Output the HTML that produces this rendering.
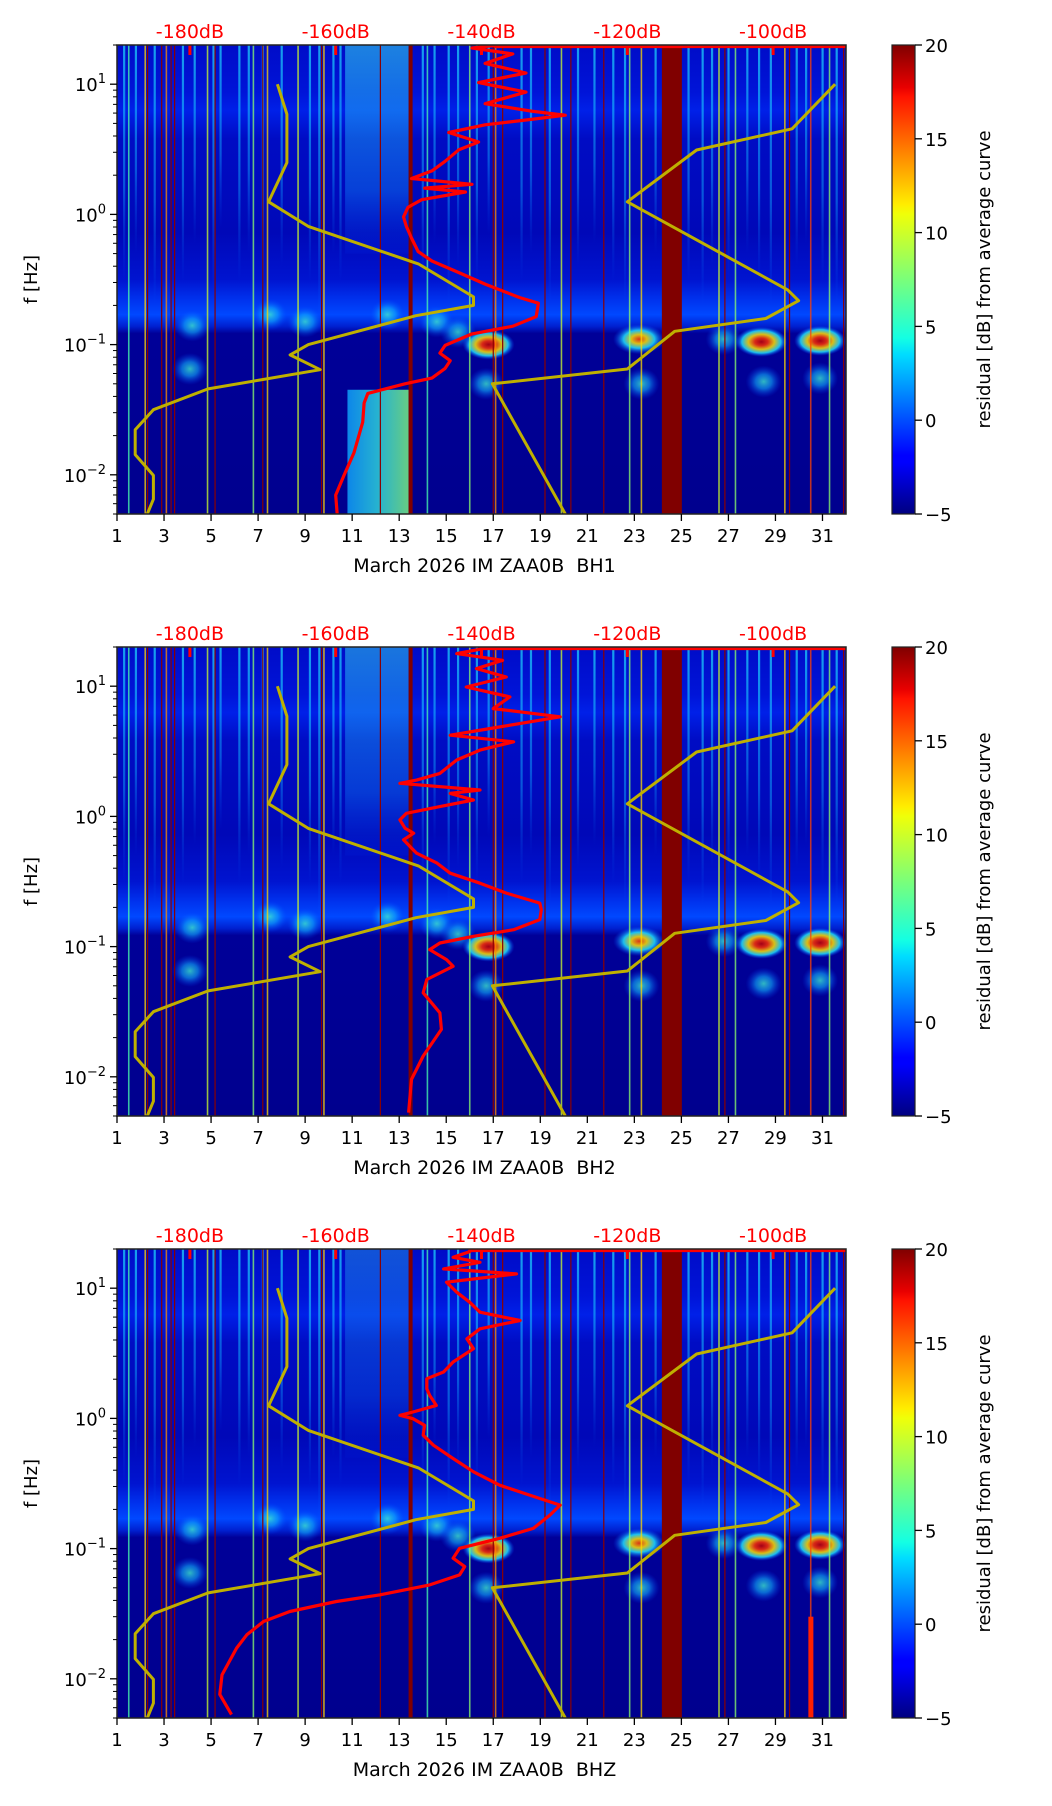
<!DOCTYPE html>
<html><head><meta charset="utf-8">
<style>
html,body{margin:0;padding:0;background:#fff;}
svg{display:block;font-family:"DejaVu Sans","Liberation Sans",sans-serif;}
</style></head>
<body>
<svg id="fig" width="1052" height="1806" viewBox="0 0 1052 1806" xmlns="http://www.w3.org/2000/svg">
<defs>
<linearGradient id="jetGrad" x1="0" y1="1" x2="0" y2="0">
<stop offset="0" stop-color="#000080"/><stop offset="0.11" stop-color="#0000ff"/><stop offset="0.125" stop-color="#0000ff"/>
<stop offset="0.34" stop-color="#00dcff"/><stop offset="0.375" stop-color="#14ffe3"/><stop offset="0.5" stop-color="#7aff7a"/>
<stop offset="0.64" stop-color="#f0ff08"/><stop offset="0.66" stop-color="#ffed00"/><stop offset="0.89" stop-color="#ff1200"/>
<stop offset="0.91" stop-color="#e80000"/><stop offset="1" stop-color="#800000"/>
</linearGradient>
<linearGradient id="bgGrad" x1="0" y1="0" x2="0" y2="1">
<stop offset="0" stop-color="#000cc8"/><stop offset="0.1" stop-color="#0014d8"/><stop offset="0.14" stop-color="#0020e8"/>
<stop offset="0.2" stop-color="#000cc4"/><stop offset="0.4" stop-color="#0008b8"/><stop offset="0.5" stop-color="#0014d0"/>
<stop offset="0.54" stop-color="#0030ec"/><stop offset="0.575" stop-color="#0048ff"/><stop offset="0.6" stop-color="#0020d0"/>
<stop offset="0.615" stop-color="#000098"/><stop offset="1" stop-color="#00008e"/>
</linearGradient>
<linearGradient id="streakGrad" x1="0" y1="0" x2="0" y2="1">
<stop offset="0" stop-color="#20e0ff" stop-opacity="0.7"/><stop offset="0.6" stop-color="#10b0ff" stop-opacity="0.45"/><stop offset="1" stop-color="#0060ff" stop-opacity="0"/>
</linearGradient>
<radialGradient id="blobRed"><stop offset="0" stop-color="#c00000"/><stop offset="0.25" stop-color="#ff3000"/><stop offset="0.5" stop-color="#ffe000"/><stop offset="0.75" stop-color="#20e0ff"/><stop offset="1" stop-color="#0040ff" stop-opacity="0"/></radialGradient>
<radialGradient id="blobYel"><stop offset="0" stop-color="#ff4000"/><stop offset="0.3" stop-color="#ffe000"/><stop offset="0.6" stop-color="#20e0ff"/><stop offset="1" stop-color="#0040ff" stop-opacity="0"/></radialGradient>
<radialGradient id="blobCyan"><stop offset="0" stop-color="#40f0d0" stop-opacity="0.9"/><stop offset="0.45" stop-color="#10b0ff" stop-opacity="0.7"/><stop offset="1" stop-color="#0040ff" stop-opacity="0"/></radialGradient>
<linearGradient id="colGrad" x1="0" y1="0" x2="1" y2="0"><stop offset="0" stop-color="#10a8ff"/><stop offset="0.5" stop-color="#30e0e0"/><stop offset="1" stop-color="#80ff80"/></linearGradient>
<linearGradient id="colTopGrad" x1="0" y1="0" x2="0" y2="1"><stop offset="0" stop-color="#30d0f0" stop-opacity="0.6"/><stop offset="0.7" stop-color="#1090ff" stop-opacity="0.4"/><stop offset="1" stop-color="#0040ff" stop-opacity="0.1"/></linearGradient>
</defs>
</svg>
<script>
// ---- data ----
const dayTicks = [1,3,5,7,9,11,13,15,17,19,21,23,25,27,29,31];
const dbTicks = [-180,-160,-140,-120,-100];
const cbTicks = [-5,0,5,10,15,20];
const channelNames = ["BH1","BH2","BHZ"];
// Peterson low / high noise models (period s, dB)
const nlnmPeriod = [0.1,0.17,0.4,0.8,1.24,2.4,4.3,5,6,10,12,15.6,21.9,31.6,45,70,101,154,200];
const nlnmDb = [-168,-166.7,-166.7,-169.2,-163.7,-148.65,-141.1,-141.1,-149,-163.75,-166.25,-162.13,-177.5,-185,-187.5,-187.5,-185,-185,-185.85];
const nhnmPeriod = [0.1,0.22,0.32,0.8,3.8,4.6,6.3,7.9,15.4,20,200];
const nhnmDb = [-91.5,-97.4,-110.5,-120.0,-98.0,-96.5,-101.0,-113.5,-120.0,-138.5,-128.5];
// mean PSD curves (log10 freq, dB)
const bh1LogF = [-2.303,-2.156,-2.009,-1.832,-1.596,-1.449,-1.375,-1.301,-1.257,-1.183,-1.124,-1.065,-1.006,-0.918,-0.859,-0.785,-0.682,-0.638,-0.535,-0.447,-0.358,-0.285,-0.181,-0.093,-0.019,0.054,0.113,0.172,0.202,0.231,0.276,0.334,0.408,0.497,0.556,0.629,0.688,0.732,0.762,0.791,0.850,0.939,1.012,1.086,1.160,1.233,1.278,1.298];
const bh1Db = [-159.8,-160.0,-158.9,-157.5,-156.3,-156.1,-155.6,-150.5,-146.8,-145.0,-144.3,-145.7,-145.0,-141.3,-135.7,-132.5,-132.2,-134.8,-139.5,-143.1,-146.8,-148.7,-149.6,-150.3,-150.7,-150.1,-148.2,-142.2,-147.8,-141.3,-149.6,-146.8,-145.0,-143.1,-140.4,-144.5,-139.5,-132.9,-128.5,-132.9,-139.5,-133.9,-140.4,-133.9,-139.5,-135.7,-141.3,-138.1];
const bh2LogF = [-2.275,-2.02,-1.84,-1.636,-1.509,-1.355,-1.253,-1.151,-1.100,-1.023,-0.972,-0.921,-0.87,-0.793,-0.717,-0.666,-0.589,-0.513,-0.436,-0.359,-0.283,-0.232,-0.18,-0.129,-0.091,-0.027,0.024,0.075,0.126,0.177,0.203,0.254,0.279,0.33,0.433,0.509,0.573,0.624,0.675,0.765,0.828,0.918,0.994,1.071,1.135,1.199,1.25,1.288];
const bh2Db = [-150.0,-149.6,-148.0,-145.5,-145.7,-148.0,-147.5,-143.9,-144.8,-147.1,-145.7,-141.1,-135.6,-132.0,-131.8,-132.0,-136.6,-140.2,-144.3,-146.1,-148.9,-149.8,-150.7,-149.3,-150.5,-151.2,-150.3,-145.7,-141.1,-144.3,-140.2,-151.2,-148.9,-145.7,-143.4,-140.2,-135.6,-144.3,-138.8,-129.2,-138.4,-136.1,-142.1,-136.6,-140.7,-137.1,-143.4,-139.8];
const bhzLogF = [-2.275,-2.12,-1.97,-1.764,-1.662,-1.56,-1.483,-1.406,-1.355,-1.279,-1.202,-1.138,-1.074,-0.998,-0.921,-0.845,-0.742,-0.666,-0.615,-0.513,-0.41,-0.308,-0.206,-0.129,-0.053,-0.002,0.024,0.049,0.1,0.177,0.228,0.305,0.356,0.433,0.535,0.611,0.688,0.752,0.816,0.892,0.969,1.046,1.11,1.148,1.199,1.237,1.281];
const bhzDb = [-174.3,-175.9,-175.6,-173.6,-172.2,-169.9,-166.3,-159.9,-153.9,-147.1,-143.0,-142.3,-143.9,-143.0,-137.5,-132.9,-130.6,-129.2,-132.0,-137.5,-141.1,-143.9,-146.6,-148.0,-147.8,-149.4,-151.2,-149.4,-146.2,-147.1,-147.5,-147.5,-145.2,-143.9,-141.1,-142.0,-140.2,-134.7,-140.2,-141.6,-143.4,-144.8,-135.2,-145.2,-140.2,-143.9,-141.6];
// spectrogram features
const gapDays = [2.3,2.9,3.3,3.45,5.17,7.2,9.7,12.2,17.0,17.4,19.2,20.3,21.7,26.85,29.6,31.9];
const fullLineDays = [1.5,2.2,3.1,4.85,6.8,7.4,8.7,9.8,14.2,16.0,17.1,19.9,22.8,23.3,26.6,27.3,29.4,30.5,31.3];
const fullLineVal = [6,12,14,10,8,12,10,12,6,8,14,10,8,12,10,8,12,16,8];
const streakDays = [1.3,1.8,2.6,3.8,4.3,5.1,5.4,6.2,6.6,7.2,8.0,9.2,9.6,10.2,10.5,14.0,14.5,15.1,15.5,16.3,16.8,18.2,18.6,19.4,20.6,21.3,22.1,22.6,23.9,25.3,25.9,26.3,27.0,27.8,28.3,28.8,29.9,30.3,31.0,31.6];
const streakLow = [0.3,0.5,0.2,0.3,0.6,0.25,0.8,0.3,0.5,0.2,0.4,0.3,0.15,0.5,0.3,0.3,0.6,0.2,0.4,0.3,0.7,0.3,0.5,0.2,0.4,0.6,0.3,0.2,0.5,0.3,0.2,0.4,0.3,0.5,0.3,0.2,0.4,0.6,0.3,0.2];
const blobDay = [4.2,4.1,7.5,9.0,14.6,16.8,16.7,23.2,23.3,28.4,28.5,30.9,30.9,26.8,15.5,12.5];
const blobFreq = [0.14,0.065,0.17,0.15,0.15,0.10,0.05,0.11,0.05,0.105,0.052,0.107,0.055,0.11,0.125,0.17];
const blobKind = ["c","c","c","c","c","r","c","y","c","r","c","r","c","c","c","c"];

// ---- geometry ----
const L=117, R=846, H=469, TOPS=[45,647,1249];
const F0=0.005, F1=20, D0=1, D1=32, DB0=-190, DB1=-90;
const svg=document.getElementById('fig');
const NS='http://www.w3.org/2000/svg';
function mk(tag, attrs, parent){const e=document.createElementNS(NS,tag);for(const k in attrs)e.setAttribute(k,attrs[k]);(parent||svg).appendChild(e);return e;}
function xDay(d){return L+(d-D0)/(D1-D0)*(R-L);}
function xDb(db){return L+(db-DB0)/(DB1-DB0)*(R-L);}
function yF(T,f){return T+(Math.log10(F1)-Math.log10(f))/(Math.log10(F1)-Math.log10(F0))*H;}
function jet(v){let t=(v+5)/25;t=Math.max(0,Math.min(1,t));
 const r=Math.max(0,Math.min(1,t<0.35?0:t<0.66?(t-0.35)/0.31:t<0.89?1:1-(t-0.89)/0.22));
 const g=Math.max(0,Math.min(1,t<0.125?0:t<0.375?(t-0.125)/0.25:t<0.64?1:1-(t-0.64)/0.27));
 const b=Math.max(0,Math.min(1,t<0.11?0.5+t/0.22:t<0.34?1:1-(t-0.34)/0.31));
 return `rgb(${Math.round(r*255)},${Math.round(g*255)},${Math.round(b*255)})`;}

const curves=[[bh1LogF,bh1Db],[bh2LogF,bh2Db],[bhzLogF,bhzDb]];

for(let p=0;p<3;p++){
 const T=TOPS[p], B=T+H;
 const g=mk('g',{});
 
 
 const clipId='clip'+p;
 const cp=mk('clipPath',{id:clipId},g); mk('rect',{x:L,y:T,width:R-L,height:H},cp);
 const sg=mk('g',{'clip-path':`url(#${clipId})`},g);
 
 
 mk('rect',{x:L,y:T,width:R-L,height:H,fill:'url(#bgGrad)'},sg);
 // bright column (days ~10.7-13.4)
 const cx0=xDay(10.7), cx1=xDay(13.4);
 mk('rect',{x:cx0,y:T,width:cx1-cx0,height:yF(T,0.5)-T,fill:'url(#colTopGrad)',opacity:p===0?1:(p===1?0.9:0.6)},sg);
 if(p===0){mk('rect',{x:xDay(10.8),y:yF(T,0.045),width:xDay(13.4)-xDay(10.8),height:B-yF(T,0.045),fill:'url(#colGrad)',opacity:0.8},sg);}
 // upper streaks
 for(let i=0;i<streakDays.length;i++){
  const y1=yF(T,streakLow[i]);
  const r=mk('rect',{x:xDay(streakDays[i])-1,y:T,width:2.2,height:y1-T,fill:'url(#streakGrad)'},sg);
  
  
 }
 // blobs
 for(let i=0;i<blobDay.length;i++){
  const k=blobKind[i];
  const e=mk('ellipse',{cx:xDay(blobDay[i]),cy:yF(T,blobFreq[i]),rx:k==='c'?18:26,ry:k==='c'?16:15,fill:k==='r'?'url(#blobRed)':k==='y'?'url(#blobYel)':'url(#blobCyan)',opacity:0.85},sg);
  
  
 }
 // full-height lines
 for(let i=0;i<fullLineDays.length;i++){
  const r=mk('rect',{x:xDay(fullLineDays[i])-0.8,y:T,width:1.6,height:H,fill:jet(fullLineVal[i]),opacity:0.75},sg);
  
  
 }
 if(p===2){mk('rect',{x:xDay(30.4),y:yF(T,0.03),width:5,height:B-yF(T,0.03),fill:'#ff2000'},sg);}
 // gap lines
 for(const d of gapDays){
  const l=mk('line',{x1:xDay(d),x2:xDay(d),y1:T,y2:B,stroke:'#8b0000','stroke-width':1.2},sg);
  
  
 }
 mk('rect',{x:xDay(13.4),y:T,width:4,height:H,fill:'#800000'},sg);
 const band=mk('rect',{x:xDay(24.17),y:T,width:xDay(25.02)-xDay(24.17),height:H,fill:'#800000'},sg);
 
 
 // noise models
 for(const [per,db,name] of [[nlnmPeriod,nlnmDb,'nlnm-curve'],[nhnmPeriod,nhnmDb,'nhnm-curve']]){
  const pts=per.map((t,i)=>xDb(db[i]).toFixed(1)+','+yF(T,1/t).toFixed(1)).join(' ');
  const pl=mk('polyline',{points:pts,fill:'none',stroke:'#bfb000','stroke-width':3,'stroke-linejoin':'round'},sg);
  
  
 }
 // mean curve
 const [lf,db]=curves[p];
 const pts=lf.map((v,i)=>xDb(db[i]).toFixed(1)+','+yF(T,Math.pow(10,v)).toFixed(1));
 const last=lf.length-1;
 pts.push(xDb(db[last]).toFixed(1)+','+(T+1.5));
 pts.push(R+','+(T+1.5));
 const rl=mk('polyline',{points:pts.join(' '),fill:'none',stroke:'#ff0000','stroke-width':3.2,'stroke-linejoin':'round'},sg);
 
 
 // top dB ticks
 for(const d of dbTicks){
  mk('line',{x1:xDb(d),x2:xDb(d),y1:T,y2:T+10,stroke:'#ff0000','stroke-width':3},g);
  const t=mk('text',{x:xDb(d),y:T-7,'text-anchor':'middle','font-size':19,fill:'#ff0000'},g);
  t.textContent=d+'dB';
  
  
 }
 // frame
 mk('rect',{x:L,y:T,width:R-L,height:H,fill:'none',stroke:'#222','stroke-width':1.5},g);
 // x ticks
 for(const d of dayTicks){
  mk('line',{x1:xDay(d),x2:xDay(d),y1:B,y2:B+7,stroke:'#000','stroke-width':1.3},g);
  const t=mk('text',{x:xDay(d),y:B+28,'text-anchor':'middle','font-size':18},g);
  t.textContent=d;
  
  
 }
 const xl=mk('text',{x:(L+R)/2+3,y:B+58,'text-anchor':'middle','font-size':19},g);
 xl.textContent='March 2026 IM ZAA0B\u00a0\u00a0'+channelNames[p];
 
 
 // y ticks
 for(let e=-3;e<=1;e++){for(let m=1;m<=9;m++){const f=m*Math.pow(10,e);if(f<F0-1e-9||f>F1+1e-9)continue;
  const y=yF(T,f);
  mk('line',{x1:L-(m===1?7:4),x2:L,y1:y,y2:y,stroke:'#000','stroke-width':m===1?1.3:1},g);
  if(m===1){const t=mk('text',{x:L-11,y:y+7,'text-anchor':'end','font-size':18},g);
   
   
   const s1=mk('tspan',{},t);s1.textContent='10';
   const s2=mk('tspan',{dy:-8,'font-size':13},t);s2.textContent=(e<0?'\u2212':'')+Math.abs(e);}
 }}
 const yl=mk('text',{x:0,y:0,transform:`translate(37,${T+H/2}) rotate(-90)`,'text-anchor':'middle','font-size':18},g);
 yl.textContent='f [Hz]';
 
 
 // colorbar
 const cb=mk('rect',{x:892,y:T,width:23,height:H,fill:'url(#jetGrad)',stroke:'#222','stroke-width':1.2},g);
 
 
 for(const v of cbTicks){const y=B-(v+5)/25*H;
  mk('line',{x1:915,x2:922,y1:y,y2:y,stroke:'#000','stroke-width':1.3},g);
  const t=mk('text',{x:925,y:y+7,'font-size':18},g);
  t.textContent=(v<0?'\u2212':'')+Math.abs(v);
  
  }
 const cl=mk('text',{x:0,y:0,transform:`translate(990,${T+H/2}) rotate(-90)`,'text-anchor':'middle','font-size':18},g);
 cl.textContent='residual [dB] from average curve';
 
 
}
</script>
</body></html>
